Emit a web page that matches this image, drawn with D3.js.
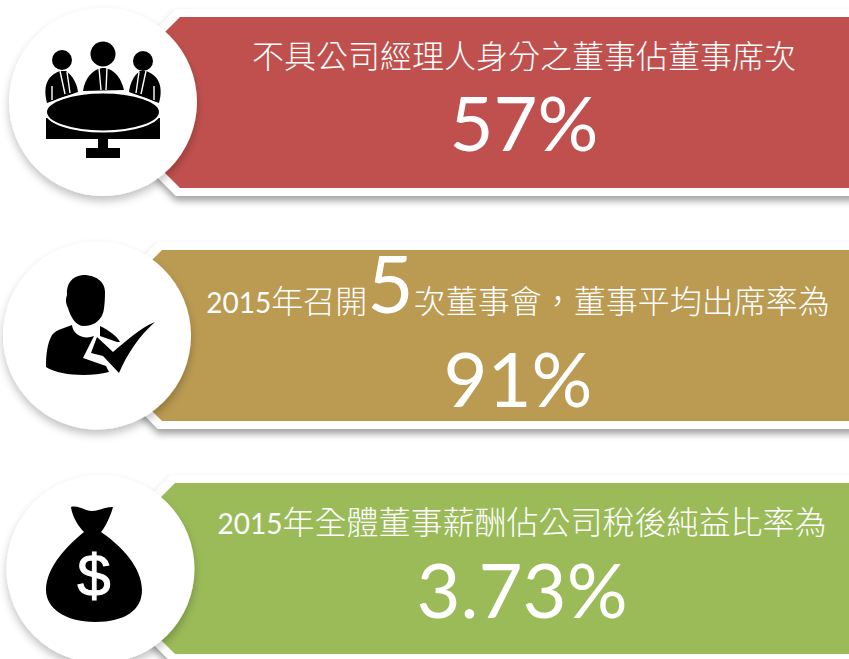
<!DOCTYPE html>
<html lang="zh-TW">
<head>
<meta charset="utf-8">
<script src="https://cdn.jsdelivr.net/npm/d3@7"></script>
<style>
  html, body { margin: 0; padding: 0; background: #fff; overflow: hidden; }
  text { fill: #fff; font-family: "Noto Sans CJK TC", sans-serif; }
  .num { font-family: Lato, "Noto Sans", sans-serif; font-weight: 400; }
</style>
</head>
<body>
<div id="chart"></div>
<script>
// chart values
var labels = [
  [{t: "不具公司經理人身分之董事佔董事席次"}],
  [{t: "2015", n: 1}, {t: "年召開"}, {t: "5", big: 1}, {t: "次董事會，董事平均出席率為"}],
  [{t: "2015", n: 1}, {t: "年全體董事薪酬佔公司稅後純益比率為"}]
];
var values = ["57%", "91%", "3.73%"];
var colors = ["#c0504d", "#bb9a51", "#9bbb59"];
var rows = [0, 1, 2];

var width = 849, height = 659;

var svg = d3.select("#chart").append("svg")
    .attr("width", width)
    .attr("height", height);

var defs = svg.append("defs");
var shadow = defs.append("filter").attr("id", "shadow")
    .attr("x", "-20%").attr("y", "-20%").attr("width", "140%").attr("height", "150%");
shadow.append("feDropShadow")
    .attr("dx", 0).attr("dy", 5).attr("stdDeviation", 3.5)
    .attr("flood-color", "#000").attr("flood-opacity", 0.36);

// softer one for the circles
var circleShadow = defs.append("filter").attr("id", "circleShadow")
    .attr("x", "-20%").attr("y", "-20%").attr("width", "140%").attr("height", "150%");
circleShadow.append("feDropShadow")
    .attr("dx", 0).attr("dy", 5).attr("stdDeviation", 4)
    .attr("flood-color", "#000").attr("flood-opacity", 0.24);

// banner tops, one every 233px
var y = d3.scaleLinear().domain([0, 2]).range([17, 483]);

// per row layout
var bannerLeft = [180, 162, 175];
var circleX = [103, 97, 100.5];
var circleOffset = [85, 85.5, 86];
var labelX = [524, 518, 522];
var labelY = [68, 313, 534];
var valueX = [524, 518, 522];
var valueY = [151, 407, 618];
var bannerH = 171;

function banner(g, x, top, h, b) {
  // cut corner shape, b is the white border
  var c = 20;
  var p = [[x - b * 0.5, top - b], [width + 10, top - b], [width + 10, top + h + b],
           [x - b * 0.5, top + h + b], [x - b * 0.5 - c, top + h + b - c], [x - b * 0.5 - c, top - b + c]];
  g.append("path").attr("d", d3.line()(p) + "Z");
}

rows.forEach(function(i) {
  var top = y(i);
  var g = svg.append("g");

  // white outer plate with shadow
  var plate = g.append("g").attr("fill", "#fff").attr("filter", "url(#shadow)");
  banner(plate, bannerLeft[i], top, bannerH, 8);

  // coloured plate
  var face = g.append("g").attr("fill", colors[i]);
  banner(face, bannerLeft[i], top, bannerH, 0);

  g.append("circle")
    .attr("cx", circleX[i])
    .attr("cy", top + circleOffset[i])
    .attr("r", 94)
    .attr("fill", "#fff")
    .attr("filter", "url(#circleShadow)");

  var label = g.append("text")
    .attr("x", labelX[i])
    .attr("y", labelY[i])
    .attr("text-anchor", "middle")
    .style("font-size", "32px")
    .style("font-weight", 300);
  label.selectAll("tspan").data(labels[i]).enter().append("tspan")
    .attr("class", function(d) { return d.n || d.big ? "num" : null; })
    .style("font-size", function(d) { return d.big ? "80px" : d.n ? "28px" : null; })
    .text(function(d) { return d.t; });

  g.append("text")
    .attr("class", "num")
    .attr("x", valueX[i])
    .attr("y", valueY[i])
    .attr("text-anchor", "middle")
    .style("font-size", "76px")
    .text(values[i]);
});

// icons
var black = svg.append("g").attr("fill", "#000");

// meeting table
var m = black.append("g");
[[62, 60, 10], [103, 54, 12.5], [143, 61, 10]].forEach(function(c) {
  m.append("circle").attr("cx", c[0]).attr("cy", c[1]).attr("r", c[2]);
});
m.append("path").attr("d", "M47 103 C43 88 46 76 60 71 L66 71 C72 75 77 83 78 92 Z");
m.append("path").attr("d", "M83 91 C85 78 92 70 102 68 L105 68 C115 70 121 78 124 90 Z");
m.append("path").attr("d", "M159 103 C163 88 160 76 146 71 L140 71 C134 75 130 83 129 92 Z");
m.append("path").attr("fill", "none").attr("stroke", "#fff").attr("stroke-width", 1.4)
  .attr("d", "M60 71 L65 94 M67 72 L70 93 M52 86 L52 100 M99 68 L101 90 M107 68 L106 90 M146 71 L141 94 M139 72 L136 93 M154 86 L154 100");
m.append("path").attr("d", "M46 118 L46 139 L160 139 L160 118 Z");
m.append("rect").attr("x", 98).attr("y", 137).attr("width", 10).attr("height", 12);
m.append("rect").attr("x", 86).attr("y", 148).attr("width", 34).attr("height", 10);
m.append("ellipse").attr("cx", 103).attr("cy", 112).attr("rx", 57).attr("ry", 19.5)
  .attr("fill", "#000").attr("stroke", "#fff").attr("stroke-width", 2);

// person with check
var p = black.append("g");
p.append("path").attr("d", "M83 275 C95 275 105 281 105 292 C105 302 104 311 103 313 C100 322 92 326 84 326 C76 326 71 318 68 308 C65 302 66 298 67 295 C66 284 72 276 83 275 Z");
p.append("path").attr("d", "M72 325 C73 335 84 340 94 336 L83 358 L106 366 L109 372 C90 377 60 376 46 367 C46 355 47 344 52 335 C57 329 65 328 72 325 Z");
p.append("path").attr("d", "M100 326 C108 330 117 336 120 342 L117 342 L100 336 Z");
p.append("path").attr("d", "M97 337 L113 352 C125 342 140 328 155 322 C140 335 127 354 119 373 L103 356 L91 353 Z");

// money bag
var b = black.append("g");
b.append("path").attr("d", "M71 507 C78 505 85 511 92 511 C98 511 105 507 113 507 C111 515 106 526 101 532 C122 546 142 568 142 590 C142 610 125 622 95 622 C65 622 46 608 46 590 C46 567 68 545 84 532 C78 526 72 516 71 507 Z");
b.append("text").attr("x", 94).attr("y", 596)
  .style("font-family", "'Liberation Sans'")
  .style("font-size", "60px")
  .attr("stroke", "#fff")
  .attr("stroke-width", 1)
  .attr("text-anchor", "middle")
  .text("$");
</script>
</body>
</html>
